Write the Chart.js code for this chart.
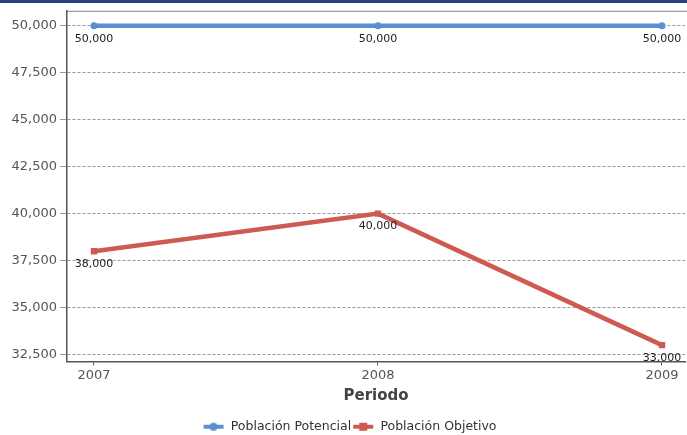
<!DOCTYPE html>
<html>
<head>
<meta charset="utf-8">
<script src="https://cdn.jsdelivr.net/npm/chart.js@4.4.1/dist/chart.umd.min.js"></script>
<style>
html,body{margin:0;padding:0;background:#fff}
#wrap{width:687px;height:435px;position:relative;overflow:hidden}
</style>
</head>
<body>
<div id="wrap"><canvas id="c" width="699" height="435"></canvas></div>
<script>
// datos
const periodos = ["2007", "2008", "2009"]
const potencial = [50000, 50000, 50000]
const objetivo = [38000, 40000, 33000]
const yTicks = [32500, 35000, 37500, 40000, 42500, 45000, 47500, 50000]

const azul = "#5b8fcf"
const rojo = "#cd5b51"

function legendIcon(color, square){
  const c = document.createElement("canvas")
  c.width = 22
  c.height = 10
  const g = c.getContext("2d")
  g.strokeStyle = color
  g.lineWidth = 4
  g.beginPath()
  g.moveTo(1, 5)
  g.lineTo(21, 5)
  g.stroke()
  g.fillStyle = color
  if(square){
    g.fillRect(7, 1, 8, 8)
  }else{
    g.beginPath()
    g.arc(11, 5, 4, 0, Math.PI*2)
    g.fill()
  }
  return c
}

const marco = {
  id:"marco",
  afterLayout(chart){
    // la leyenda del original está un poco a la derecha
    if(chart.legend){
      chart.legend.left += 7
      chart.legend.right += 7
    }
  },
  beforeDraw(chart){
    const ctx = chart.ctx
    const a = chart.chartArea
    ctx.save()
    ctx.fillStyle = "#24457c"
    ctx.fillRect(0, 0, chart.width, 3)
    ctx.strokeStyle = "#888"
    ctx.lineWidth = 1
    ctx.beginPath()
    ctx.moveTo(a.left, a.top + 0.5)
    ctx.lineTo(chart.width, a.top + 0.5)
    ctx.stroke()
    ctx.restore()
  }
}

const etiquetas = {
  id:"etiquetas",
  afterDatasetsDraw(chart){
    const ctx = chart.ctx
    ctx.save()
    ctx.font = "11px 'DejaVu Sans'"
    ctx.fillStyle = "#222"
    ctx.textAlign = "center"
    ctx.textBaseline = "middle"
    chart.data.datasets.forEach((ds, i)=>{
      chart.getDatasetMeta(i).data.forEach((pt, j)=>{
        const v = ds.data[j].y
        ctx.fillText(v.toLocaleString("en-US"), pt.x, pt.y + 13)
      })
    })
    ctx.restore()
  }
}

const toPts = arr => arr.map((v, i)=>({x:Number(periodos[i]), y:v}))

new Chart(document.getElementById("c"), {
  type:"line",
  data:{
    datasets:[
      {
        label:"Población Potencial",
        data:toPts(potencial),
        borderColor:azul,
        backgroundColor:azul,
        borderWidth:4.5,
        pointStyle:"circle",
        pointRadius:3.5,
        pointBorderWidth:0,
        pointHoverRadius:3.5,
        tension:0
      },
      {
        label:"Población Objetivo",
        data:toPts(objetivo),
        borderColor:rojo,
        backgroundColor:rojo,
        borderWidth:4.5,
        pointStyle:"rect",
        pointRadius:4.5,
        pointBorderWidth:0,
        pointHoverRadius:4.5,
        tension:0
      }
    ]
  },
  options:{
    responsive:false,
    animation:false,
    layout:{padding:{top:10, right:14, left:0, bottom:-8}},
    plugins:{
      tooltip:{enabled:false},
      legend:{
        position:"bottom",
        labels:{
          usePointStyle:true,
          pointStyleWidth:22,
          padding:1,
          color:"#333",
          font:{family:"'DejaVu Sans'", size:12.5},
          generateLabels(chart){
            return chart.data.datasets.map((ds, i)=>({
              text:ds.label,
              pointStyle:legendIcon(ds.borderColor, i==1),
              fontColor:"#333",
              lineWidth:0,
              strokeStyle:"transparent",
              fillStyle:"transparent",
              datasetIndex:i,
              hidden:false
            }))
          }
        }
      }
    },
    scales:{
      x:{
        type:"linear",
        min:2006.905,
        max:2009.081,
        afterBuildTicks(s){ s.ticks = periodos.map(p=>({value:Number(p)})) },
        afterFit(s){ s.height = 58; s.paddingRight = 0; s.paddingLeft = 0 },
        ticks:{
          color:"#555",
          padding:2,
          font:{family:"'DejaVu Sans'", size:13},
          callback:v=>String(v)
        },
        grid:{drawOnChartArea:false, drawTicks:true, tickLength:4, color:"#555"},
        border:{display:true, color:"#555", width:1.5},
        title:{
          display:true,
          text:"Periodo",
          color:"#444",
          font:{family:"'DejaVu Sans'", size:15, weight:"bold"},
          padding:{top:0, bottom:14}
        }
      },
      y:{
        min:32128,
        max:50798,
        afterBuildTicks(s){ s.ticks = yTicks.map(v=>({value:v})) },
        afterFit(s){ s.width = 67 },
        ticks:{
          color:"#555",
          padding:3,
          font:{family:"'DejaVu Sans'", size:13},
          callback:v=>v.toLocaleString("en-US")
        },
        grid:{color:"#999", lineWidth:1, tickLength:7},
        border:{display:true, color:"#555", width:1.5, dash:[3,2]},
      }
    }
  },
  plugins:[marco, etiquetas]
})
</script>
</body>
</html>
